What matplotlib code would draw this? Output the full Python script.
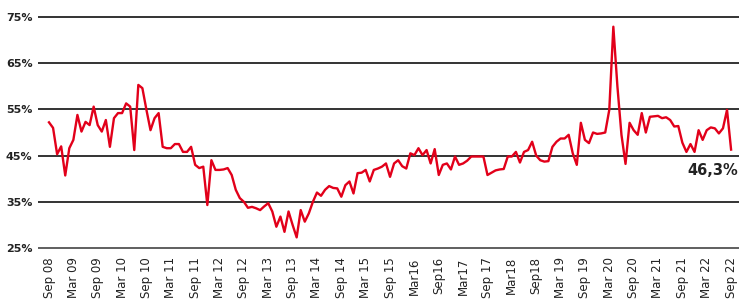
import matplotlib
matplotlib.use("Agg")
import matplotlib.pyplot as plt

# Monthly values, Sep 2008 .. Sep 2022 (percent)
vals_2008_2012 = [52.2, 51.0, 45.3, 47.0, 40.7, 46.6, 48.4, 53.8, 50.2, 52.3,
                  51.6, 55.6, 51.6, 50.2, 52.7, 46.9, 53.1, 54.2, 54.2, 56.3,
                  55.6, 46.2, 60.3, 59.6, 54.9, 50.5, 53.1, 54.2, 46.9, 46.6,
                  46.6, 47.5, 47.5, 45.8, 45.8, 46.9, 43.0, 42.3, 42.6, 34.3,
                  44.0, 41.9, 41.9, 42.0, 42.3, 40.8, 37.6, 35.8, 35.0, 33.7,
                  33.9]
vals_2012_2017 = [33.6, 33.2, 34.0, 34.7, 32.9, 29.6, 31.8, 28.5, 32.9, 30.0,
                  27.3, 33.2, 30.7, 32.5, 35.0, 37.0, 36.3, 37.6, 38.4, 38.0,
                  37.9, 36.1, 38.6, 39.4, 36.8, 41.2, 41.3, 41.9, 39.4, 41.9,
                  42.2, 42.6, 43.3, 40.4, 43.3, 44.0, 42.7, 42.2, 45.5, 45.1,
                  46.6, 45.1, 46.2, 43.3, 46.4, 40.8, 43.0, 43.3, 42.0, 44.8,
                  43.0, 43.3, 43.9, 44.8, 44.8, 44.8, 44.8, 40.8]
vals_2017_2022 = [41.3, 41.8, 42.0, 42.1, 44.8, 44.8, 45.8, 43.5, 45.8, 46.2,
                  48.0, 45.0, 44.0, 43.7, 43.8, 46.9, 48.0, 48.7, 48.7, 49.5,
                  45.5, 43.0, 52.1, 48.4, 47.7, 50.0, 49.7, 49.8, 50.0, 54.9,
                  72.9, 60.0, 49.5, 43.2, 52.1, 50.5, 49.5, 54.2, 50.0, 53.4,
                  53.5, 53.6, 53.1, 53.3, 52.7, 51.3, 51.4, 47.8, 45.8, 47.5,
                  45.8, 50.5, 48.4, 50.5, 51.1, 50.9, 49.8, 50.9, 54.9, 46.3]
values = vals_2008_2012 + vals_2012_2017 + vals_2017_2022

tick_labels = ["Sep 08", "Mar 09", "Sep 09", "Mar 10", "Sep 10", "Mar 11", "Sep 11",
               "Mar 12", "Sep 12", "Mar 13", "Sep 13", "Mar 14", "Sep 14", "Mar 15",
               "Sep 15", "Mar16", "Sep16", "Mar17", "Sep 17", "Mar18", "Sep18",
               "Mar 19", "Sep 19", "Mar 20", "Sep 20", "Mar 21", "Sep 21", "Mar 22",
               "Sep 22"]
y_ticks = [25, 35, 45, 55, 65, 75]
y_labels = ["25%", "35%", "45%", "55%", "65%", "75%"]
end_label = "46,3%"

months = list(range(len(values)))
fam = ["Liberation Sans Narrow", "DejaVu Sans"]

fig = plt.figure(figsize=(7.39, 2.99), dpi=100)
ax = fig.add_axes([38 / 739, 1 - 250.3 / 299, 1 - 38 / 739, 235.6 / 299])

for y in y_ticks:
    ax.axhline(y, color="#444444" if y == 25 else "#111111", lw=1.2, zorder=1)

ax.plot(months, values, color="#e2001a", lw=1.7, zorder=3)

ax.set_ylim(24.5, 75.5)
ax.set_xlim(-(11 / 4.06), (739 - 49) / 4.06)

ax.set_yticks(y_ticks)
ax.set_yticklabels(y_labels, fontsize=8, fontweight="bold", color="#222222", family=fam)
ax.set_xticks(months[::6])
ax.set_xticklabels(tick_labels, rotation=90, fontsize=8.5, color="#222222", family=fam)
ax.tick_params(axis="both", length=0)
ax.tick_params(axis="y", pad=4)
ax.tick_params(axis="x", pad=5)
for s in ax.spines.values():
    s.set_visible(False)

ax.text(months[-1] + 1.8, values[-1] - 4.6, end_label, ha="right", va="center",
        fontsize=10.5, fontweight="bold", color="#222222", family=fam)

fig.savefig("out.png", dpi=100)
